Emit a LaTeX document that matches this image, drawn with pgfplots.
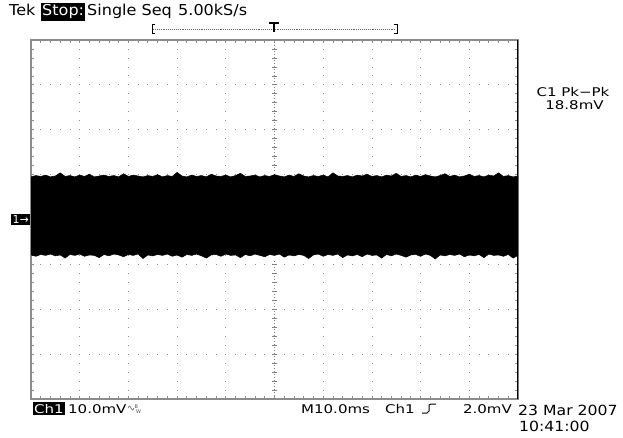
\documentclass[border=0pt]{standalone}
\usepackage{pgfplots}
\pgfplotsset{compat=1.18}
\usepgfplotslibrary{fillbetween}
\usepackage{fontspec}
\setmainfont{DejaVu Sans}
\newfontfamily\tek{DejaVu Sans}[FakeStretch=1.07]
\newfontfamily\tekw{DejaVu Sans}[FakeStretch=1.25]
\newfontfamily\tekd{DejaVu Sans}[FakeStretch=1.12]
\begin{document}
\begin{tikzpicture}[x=1pt,y=1pt]
\path (0,0) rectangle (623,437);
\begin{axis}[at={(31pt,38pt)}, anchor=south west, scale only axis,
  width=487pt, height=359pt,
  xmin=-50, xmax=50, ymin=-40, ymax=40,
  xtick={-40,-30,...,40}, ytick={-30,-20,...,30},
  minor xtick={-50,-48,...,50}, minor ytick={-40,-38,...,40},
  xticklabels={}, yticklabels={},
  tick align=inside, major tick length=3pt, minor tick length=3pt,
  tick style={black!45, line width=0.8pt},
  axis line style={black!45, line width=1.4pt},
  grid=major,
  major x grid style={black!45, line width=0.8pt, dash pattern=on 0.8pt off 8.175pt, dash phase=0.4pt},
  major y grid style={black!45, line width=0.8pt, dash pattern=on 0.8pt off 8.94pt, dash phase=0.4pt},
]
\draw[black!50, line width=0.8pt, dash pattern=on 0.8pt off 2.19pt] (axis cs:0,-40) -- (axis cs:0,-9);
\draw[black!50, line width=0.8pt, dash pattern=on 0.8pt off 2.19pt] (axis cs:0,10.8) -- (axis cs:0,40);
\pgfplotsinvokeforeach{-38,-36,...,-10}{\draw[black!50, line width=0.8pt] (axis cs:-0.5,#1) -- (axis cs:0.5,#1);}
\pgfplotsinvokeforeach{12,14,...,38}{\draw[black!50, line width=0.8pt] (axis cs:-0.5,#1) -- (axis cs:0.5,#1);}
\addplot[name path=U, black, line width=0.5pt] coordinates {
(-50,9.5)(-49,9.8)(-48,9.6)(-47,9.9)(-46,9.5)(-45,9.7)(-44,10.4)(-43,9.6)(-42,9.8)(-41,9.5)
(-40,9.9)(-39,9.6)(-38,10.1)(-37,9.5)(-36,9.7)(-35,9.9)(-34,9.6)(-33,9.8)(-32,9.5)(-31,10.2)
(-30,9.6)(-29,9.9)(-28,9.7)(-27,9.5)(-26,9.8)(-25,9.6)(-24,10.0)(-23,9.5)(-22,9.8)(-21,9.6)
(-20,10.5)(-19,9.7)(-18,9.5)(-17,9.9)(-16,9.6)(-15,9.8)(-14,9.5)(-13,10.1)(-12,9.7)(-11,9.6)
(-10,9.9)(-9,9.5)(-8,9.8)(-7,10.3)(-6,9.6)(-5,9.7)(-4,9.9)(-3,9.5)(-2,9.8)(-1,9.6)
(0,10.0)(1,9.7)(2,9.5)(3,9.9)(4,9.6)(5,10.2)(6,9.7)(7,9.5)(8,9.8)(9,9.6)
(10,9.9)(11,9.5)(12,10.4)(13,9.7)(14,9.6)(15,9.8)(16,9.5)(17,9.9)(18,9.7)(19,10.1)
(20,9.6)(21,9.8)(22,9.5)(23,9.9)(24,9.7)(25,10.3)(26,9.6)(27,9.8)(28,9.5)(29,9.9)
(30,9.6)(31,10.0)(32,9.7)(33,9.5)(34,9.8)(35,10.2)(36,9.6)(37,9.9)(38,9.5)(39,9.7)
(40,10.1)(41,9.6)(42,9.8)(43,9.5)(44,9.9)(45,9.7)(46,10.4)(47,9.6)(48,9.8)(49,9.5)(50,9.7)};
\addplot[name path=L, black, line width=0.5pt] coordinates {
(-50,-7.9)(-49,-8.2)(-48,-7.8)(-47,-8.0)(-46,-7.7)(-45,-8.1)(-44,-7.9)(-43,-8.6)(-42,-7.8)(-41,-8.0)
(-40,-7.7)(-39,-8.2)(-38,-7.9)(-37,-8.0)(-36,-8.5)(-35,-7.8)(-34,-8.1)(-33,-7.7)(-32,-7.9)(-31,-8.3)
(-30,-7.8)(-29,-8.0)(-28,-7.7)(-27,-8.7)(-26,-7.9)(-25,-8.1)(-24,-7.8)(-23,-8.0)(-22,-7.7)(-21,-8.2)
(-20,-7.9)(-19,-8.4)(-18,-7.8)(-17,-8.0)(-16,-7.7)(-15,-8.1)(-14,-8.6)(-13,-7.9)(-12,-7.8)(-11,-8.2)
(-10,-7.7)(-9,-8.0)(-8,-7.9)(-7,-8.5)(-6,-7.8)(-5,-8.1)(-4,-7.7)(-3,-8.0)(-2,-8.3)(-1,-7.8)
(0,-8.0)(1,-7.7)(2,-8.4)(3,-7.9)(4,-8.1)(5,-7.8)(6,-8.0)(7,-8.7)(8,-7.9)(9,-7.7)
(10,-8.2)(11,-7.8)(12,-8.0)(13,-7.7)(14,-8.5)(15,-7.9)(16,-8.1)(17,-7.8)(18,-8.3)(19,-7.7)
(20,-8.0)(21,-7.9)(22,-8.6)(23,-7.8)(24,-8.1)(25,-7.7)(26,-8.0)(27,-8.4)(28,-7.9)(29,-7.8)
(30,-8.2)(31,-7.7)(32,-8.0)(33,-8.8)(34,-7.9)(35,-8.1)(36,-7.8)(37,-8.0)(38,-7.7)(39,-8.3)
(40,-7.9)(41,-8.1)(42,-7.8)(43,-8.5)(44,-7.7)(45,-8.0)(46,-7.9)(47,-8.2)(48,-7.8)(49,-8.6)(50,-8.0)};
\addplot[black] fill between[of=U and L];
\draw[black, line width=1.6pt] (axis cs:50,-40) -- (axis cs:50,40);
\end{axis}
% record bar
\draw[black!60, line width=0.7pt, dash pattern=on 0.7pt off 1.2pt] (153,408) -- (396,408);
\draw[black, line width=0.9pt] (155,413) -- (152,413) -- (152,404) -- (155,404);
\draw[black, line width=0.9pt] (394,413) -- (397,413) -- (397,404) -- (394,404);
\draw[black, line width=1.6pt] (269,414) -- (279,414);
\draw[black, line width=1.6pt] (274,414) -- (274,405);
% top text
\begin{scope}[every node/.style={anchor=base west, inner sep=0pt, font=\tek\fontsize{15}{15}\selectfont}]
\node at (9,421) {Tek};
\node[fill=black, text=white, inner xsep=1pt, inner ysep=2pt] at (41,421) {Stop:};
\node at (87,421) {Single Seq};
\node at (178,421) {5.00kS/s};
\end{scope}
% channel marker
\node[fill=black, text=white, inner xsep=1.5pt, inner ysep=1.5pt, anchor=east, font=\fontsize{11}{11}\selectfont] at (30.5,217.5) {1→};
% right readout
\node[anchor=base, inner sep=0pt, font=\tekw\fontsize{12}{12}\selectfont] at (573,340) {C1 Pk−Pk};
\node[anchor=base, inner sep=0pt, font=\tekw\fontsize{12}{12}\selectfont] at (574.5,327.5) {18.8mV};
% bottom readout
\begin{scope}[every node/.style={anchor=base west, inner sep=0pt, font=\tekw\fontsize{12}{12}\selectfont}]
\node[fill=black, text=white, inner xsep=1pt, inner ysep=1.5pt] at (33,24) {Ch1};
\node at (68,24) {10.0mV};
\node at (301,24) {M10.0ms};
\node at (385,24) {Ch1};
\node[anchor=base east] at (512,24) {2.0mV};
\end{scope}
% bandwidth-limit symbol
\draw[black!70, line width=0.5pt] (128,29) sin (129.5,31) cos (131,29) sin (132.5,27) cos (134,29);
\node[anchor=base west, inner sep=0pt, font=\fontsize{5}{5}\selectfont, text=black!70] at (134.5,28.5) {B};
\node[anchor=base west, inner sep=0pt, font=\fontsize{5}{5}\selectfont, text=black!70] at (136,23.5) {W};
% trigger slope symbol
\draw[black, line width=1pt] (422,24) -- (427,24) -- (429,26) -- (429,32) -- (431,33) -- (436,33);
% date
\node[anchor=base west, inner sep=0pt, font=\tekd\fontsize{14}{14}\selectfont] at (518,22) {23 Mar 2007};
\node[anchor=base west, inner sep=0pt, font=\tekd\fontsize{14}{14}\selectfont] at (519,6) {10:41:00};
\end{tikzpicture}
\end{document}
